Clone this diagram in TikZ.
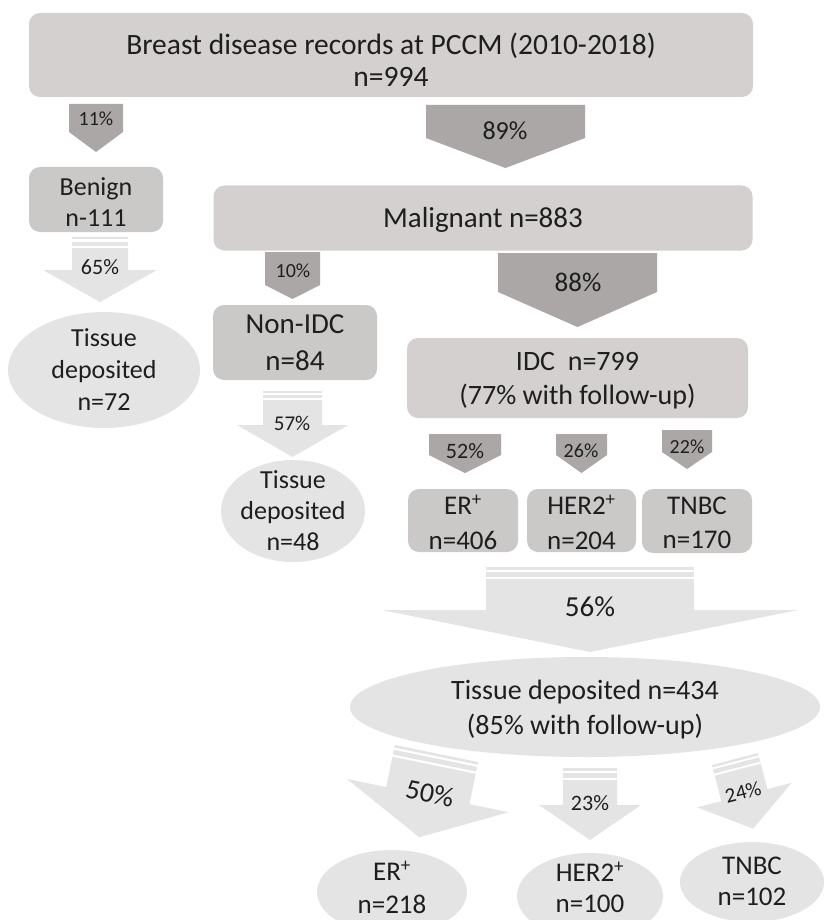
\documentclass[tikz,border=0pt]{standalone}
\usepackage{fontspec}
\setmainfont{Carlito}
\usetikzlibrary{shapes.geometric}
\definecolor{boxa}{HTML}{D4D0D0}
\definecolor{boxb}{HTML}{CBC8C8}
\definecolor{darkarr}{HTML}{ABA7A7}
\definecolor{lightarr}{HTML}{E4E4E4}
\definecolor{txt}{HTML}{1E1E1E}
\newcommand\fsz[2]{\fontsize{#1pt}{#2pt}\selectfont}
% dark pentagon arrow: xl, xr, top, shoulder, tip
\newcommand\darkarrow[5]{%
  \fill[darkarr] (#1,#3) -- (#2,#3) -- (#2,#4) -- ({(#1+#2)/2},#5) -- (#1,#4) -- cycle;}
% striped light arrow: xc, top, rotation, shaft hw, head hw, shoulder, tip, solid start
\newcommand\stripedarrow[8]{%
  \begin{scope}[shift={(#1,#2)}, rotate=#3]
    \fill[lightarr] (-#4,0) rectangle (#4,{0.22*#8});
    \fill[lightarr] (-#4,{0.41*#8}) rectangle (#4,{0.81*#8});
    \fill[lightarr] (-#4,#8) -- (#4,#8) -- (#4,#6) -- (#5,#6) -- (0,#7) -- (-#5,#6) -- (-#4,#6) -- cycle;
  \end{scope}}
\begin{document}
\begin{tikzpicture}[x=1pt,y=-1pt,
  rbox/.style={rectangle, rounded corners=11pt, inner sep=0pt, draw=none},
  ell/.style={ellipse, fill=lightarr, inner sep=0pt, draw=none},
  lbl/.style={text=txt, align=center, inner sep=0pt}]
\useasboundingbox (0,0) rectangle (837,920);
\fill[white] (0,0) rectangle (837,920);

% boxes
\node[rbox, fill=boxa, minimum width=724pt, minimum height=84pt] (top) at (391,55) {};
\node[rbox, fill=boxb, minimum width=134pt, minimum height=65pt] (benign) at (96,199.5) {};
\node[rbox, fill=boxa, minimum width=539pt, minimum height=65pt] (malig) at (483,218) {};
\node[rbox, fill=boxb, minimum width=164pt, minimum height=75pt] (nonidc) at (295,342.5) {};
\node[rbox, fill=boxa, minimum width=341pt, minimum height=80pt] (idc) at (577.5,378) {};
\node[rbox, fill=boxb, minimum width=110pt, minimum height=63pt] (er) at (463,520.5) {};
\node[rbox, fill=boxb, minimum width=109pt, minimum height=63pt] (her) at (581.5,520.5) {};
\node[rbox, fill=boxb, minimum width=110pt, minimum height=64pt] (tnbc) at (697,521) {};

% ellipses
\node[ell, minimum width=192pt, minimum height=116pt] (tdl) at (104,370) {};
\node[ell, minimum width=144pt, minimum height=102pt] (tdm) at (293,511) {};
\node[ell, minimum width=470pt, minimum height=100pt] (tdb) at (585,707) {};
\node[ell, minimum width=150pt, minimum height=84pt] (erb) at (392,892) {};
\node[ell, minimum width=146pt, minimum height=86pt] (herb) at (590,896) {};
\node[ell, minimum width=144pt, minimum height=80pt] (tnbcb) at (752,882) {};

% dark arrows
\darkarrow{69}{123}{104}{132}{152}
\darkarrow{426}{585}{105}{138}{168}
\darkarrow{265}{320}{252}{285}{299}
\darkarrow{498}{657}{253}{292}{327}
\darkarrow{429}{501}{434}{455}{473}
\darkarrow{556}{607}{434}{455}{473}
\darkarrow{662}{712}{430}{452}{469}

% light striped arrows
\stripedarrow{100}{237}{0}{28}{57}{33}{65}{11}
\stripedarrow{292.5}{391}{0}{29.5}{55.5}{34}{66}{9}
\stripedarrow{590}{567}{0}{104}{208}{43}{85}{12}
\stripedarrow{590}{768}{0}{27}{51}{37}{72}{12}
\stripedarrow{436.5}{753.5}{-11.6}{42.5}{82.5}{43}{85.5}{12}
\stripedarrow{735}{759}{14.6}{23.8}{48.8}{37.3}{72}{11}

% texts
\node[lbl, font=\fsz{29.5}{32}] (top-t) at (391,60) {Breast disease records at PCCM (2010-2018)\\n=994};
\node[lbl, font=\fsz{20}{24}] (p11) at (96,119) {11\%};
\node[lbl, font=\fsz{26}{30}] (p89) at (505,131) {89\%};
\node[lbl, font=\fsz{26}{31}] (benign-t) at (96,202) {Benign\\n-111};
\node[lbl, font=\fsz{29}{34}] (malig-t) at (483,220) {Malignant n=883};
\node[lbl, font=\fsz{22}{26}] (p65) at (100,267) {65\%};
\node[lbl, font=\fsz{26}{32}] (tdl-t) at (104,370) {Tissue\\deposited\\n=72};
\node[lbl, font=\fsz{20}{24}] (p10) at (293,271) {10\%};
\node[lbl, font=\fsz{29}{37}] (nonidc-t) at (295,343) {Non-IDC\\n=84};
\node[lbl, font=\fsz{21}{25}] (p57) at (292,423) {57\%};
\node[lbl, font=\fsz{26}{31}] (tdm-t) at (293,511) {Tissue\\deposited\\n=48};
\node[lbl, font=\fsz{27}{32}] (p88) at (578,282) {88\%};
\node[lbl, font=\fsz{28}{34}] (idc-t) at (577.5,381) {IDC\ \ n=799\\(77\% with follow-up)};
\node[lbl, font=\fsz{22}{26}] (p52) at (465,451) {52\%};
\node[lbl, font=\fsz{20}{24}] (p26) at (581,451) {26\%};
\node[lbl, font=\fsz{20}{24}] (p22) at (687,447) {22\%};
\node[lbl, font=\fsz{27}{35}] (er-t) at (463,522) {ER\textsuperscript{+}\\n=406};
\node[lbl, font=\fsz{27}{35}] (her-t) at (581.5,522) {HER2\textsuperscript{+}\\n=204};
\node[lbl, font=\fsz{27}{34}] (tnbc-t) at (697,523) {TNBC\\n=170};
\node[lbl, font=\fsz{29}{34}] (p56) at (590,607) {56\%};
\node[lbl, font=\fsz{28}{35}] (tdb-t) at (585,710) {Tissue deposited n=434\\(85\% with follow-up)};
\node[lbl, font=\fsz{28}{32}, rotate=-11.6] (p50) at (430,793) {50\%};
\node[lbl, font=\fsz{22}{26}] (p23) at (590,803) {23\%};
\node[lbl, font=\fsz{21}{25}, rotate=14.6] (p24) at (743,792) {24\%};
\node[lbl, font=\fsz{27}{33}] (erb-t) at (392,887) {ER\textsuperscript{+}\\n=218};
\node[lbl, font=\fsz{27}{31}] (herb-t) at (590,887) {HER2\textsuperscript{+}\\n=100};
\node[lbl, font=\fsz{27}{31}] (tnbcb-t) at (752,881) {TNBC\\n=102};
\end{tikzpicture}
\end{document}
